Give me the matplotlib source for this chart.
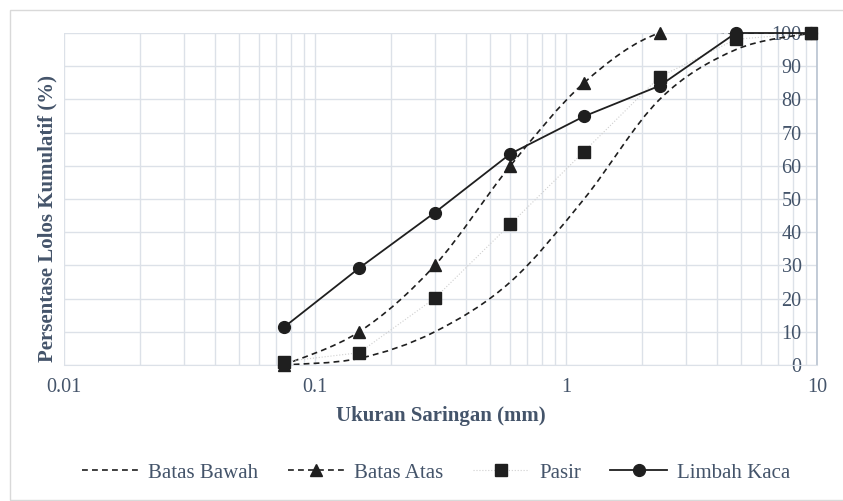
import numpy as np
import matplotlib
matplotlib.use('Agg')
import matplotlib.pyplot as plt
from matplotlib.path import Path
from matplotlib.patches import PathPatch, Rectangle
from matplotlib.lines import Line2D
from matplotlib.ticker import LogLocator, NullFormatter

plt.rcParams['font.family'] = ['Liberation Serif', 'DejaVu Serif']

# ## Data gradasi (ukuran saringan dalam mm, % lolos kumulatif)
saringan = [0.075, 0.15, 0.3, 0.6, 1.18, 2.36, 4.75, 9.5]
batas_bawah = [0, 2, 10, 25, 50, 80, 95, 100]
batas_atas = [0, 10, 30, 60, 85, 100, 100, 100]
pasir = [1.0, 3.7, 20.1, 42.4, 64.3, 86.8, 98.1, 100]
limbah_kaca = [11.3, 29.2, 45.9, 63.6, 74.9, 84.1, 100, 100]

xticks = [0.01, 0.1, 1, 10]
xtick_labels = ['0.01', '0.1', '1', '10']
yticks = list(range(0, 101, 10))

text_col = '#44546A'
grid_col = '#DCE1E8'
line_col = '#1F1F1F'
dash = (0, (3.5, 2.5))


def kurva_halus(x, y):
    # smoothed line like excel (catmull-rom -> bezier), done in log-x space
    lx = np.log10(x)
    y = np.asarray(y, float)
    n = len(lx)
    verts = [(x[0], y[0])]
    codes = [Path.MOVETO]
    for i in range(n - 1):
        i0 = max(i - 1, 0)
        i3 = min(i + 2, n - 1)
        c1 = (lx[i] + (lx[i + 1] - lx[i0]) / 6, y[i] + (y[i + 1] - y[i0]) / 6)
        c2 = (lx[i + 1] - (lx[i3] - lx[i]) / 6, y[i + 1] - (y[i3] - y[i]) / 6)
        verts += [(10 ** c1[0], c1[1]), (10 ** c2[0], c2[1]), (x[i + 1], y[i + 1])]
        codes += [Path.CURVE4] * 3
    return Path(verts, codes)


fig = plt.figure(figsize=(8.43, 5.01), dpi=100)
ax = fig.add_axes([64 / 843, 136 / 501, 753 / 843, 332 / 501])

# Batas Bawah
ax.add_patch(PathPatch(kurva_halus(saringan, batas_bawah), fill=False,
                       edgecolor=line_col, lw=1.2, linestyle=dash, zorder=3))
# Batas Atas
ax.add_patch(PathPatch(kurva_halus(saringan, batas_atas), fill=False,
                       edgecolor=line_col, lw=1.2, linestyle=dash, zorder=3))
ax.plot(saringan, batas_atas, ls='none', marker='^', ms=8, color=line_col,
        zorder=4, clip_on=False)
# Pasir
ax.plot(saringan, pasir, ls=':', lw=0.8, color='#CFCFCF', marker='s', ms=8,
        mfc=line_col, mec=line_col, zorder=5, clip_on=False)
# Limbah Kaca
ax.plot(saringan, limbah_kaca, ls='-', lw=1.3, color=line_col, marker='o', ms=8.5,
        zorder=6, clip_on=False)

ax.set_xscale('log')
ax.set_xlim(0.01, 10)
ax.set_ylim(0, 100)
ax.set_xticks(xticks)
ax.set_xticklabels(xtick_labels)
ax.xaxis.set_minor_locator(LogLocator(base=10, subs=np.arange(2, 10)))
ax.xaxis.set_minor_formatter(NullFormatter())
ax.set_yticks(yticks)

ax.grid(True, which='both', axis='x', color=grid_col, lw=1.0)
ax.grid(True, which='major', axis='y', color=grid_col, lw=1.0)
ax.set_axisbelow(True)

for s in ['top', 'left']:
    ax.spines[s].set_visible(False)
ax.spines['bottom'].set_color(grid_col)
ax.spines['right'].set_color('#B8C2D0')
ax.spines['right'].set_linewidth(1.2)

ax.tick_params(axis='both', which='both', length=0, colors=text_col, labelsize=14.5)
ax.tick_params(axis='x', pad=9)
ax.tick_params(axis='y', labelleft=False, labelright=True, pad=-11)
for lb in ax.get_yticklabels():
    lb.set_horizontalalignment('right')

ax.set_xlabel('Ukuran Saringan (mm)', fontsize=15, fontweight='bold', color=text_col)
ax.xaxis.set_label_coords(0.5, -0.122)
ax.set_ylabel('Persentase Lolos Kumulatif (%)', fontsize=15, fontweight='bold', color=text_col)
ax.yaxis.set_label_coords(-0.008, 0.44)

handles = [
    Line2D([], [], color=line_col, lw=1.2, ls=dash, label='Batas Bawah'),
    Line2D([], [], color=line_col, lw=1.2, ls=dash, marker='^', ms=8, label='Batas Atas'),
    Line2D([], [], color='#CFCFCF', lw=0.8, ls=':', marker='s', ms=8,
           mfc=line_col, mec=line_col, label='Pasir'),
    Line2D([], [], color=line_col, lw=1.3, ls='-', marker='o', ms=8.5, label='Limbah Kaca'),
]
leg = fig.legend(handles=handles, loc='center', bbox_to_anchor=(436 / 843, 1 - 473 / 501),
                 ncol=4, frameon=False, fontsize=15, handlelength=2.7,
                 handletextpad=0.5, columnspacing=1.4)
for t in leg.get_texts():
    t.set_color(text_col)

# outer chart border
fig.patches.append(Rectangle((10 / 843, 1 / 501), 1.0, 490 / 501, transform=fig.transFigure,
                             fill=False, edgecolor='#D9D9D9', lw=1.0))

fig.savefig('out.png', dpi=100)
